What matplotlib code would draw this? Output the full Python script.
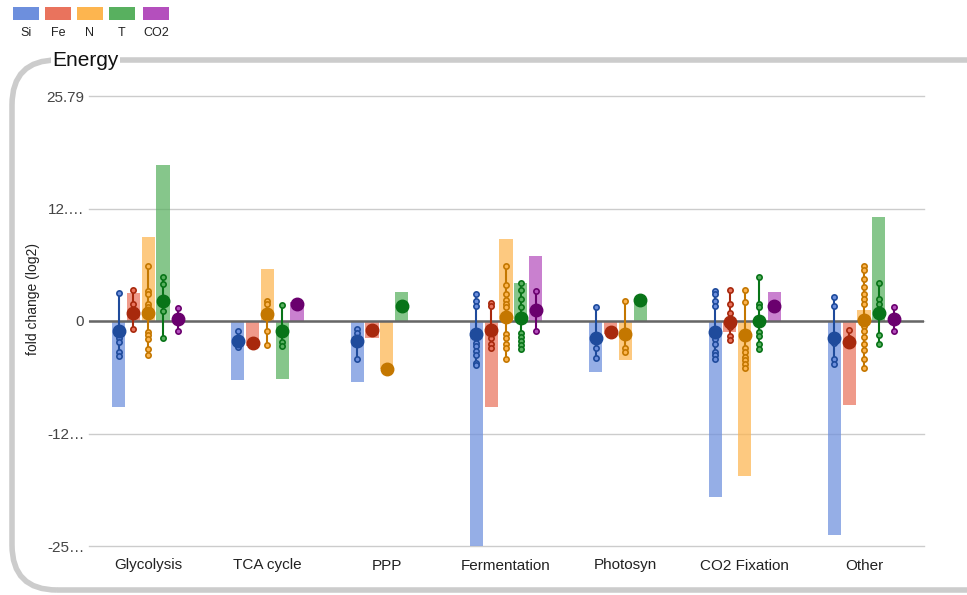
import matplotlib.pyplot as plt
from matplotlib.patches import FancyBboxPatch, Rectangle
from matplotlib.transforms import IdentityTransform

plt.rcParams['font.family'] = ['Liberation Sans', 'DejaVu Sans']

categories = ["Glycolysis", "TCA cycle", "PPP", "Fermentation", "Photosyn", "CO2 Fixation", "Other"]
series = ["Si", "Fe", "N", "T", "CO2"]

# bar heights per series (one per category)
bars_si = [-9.9, -6.8, -7.0, -25.79, -5.8, -20.2, -24.5]
bars_fe = [3.2, -2.9, -2.0, -9.9, -1.5, -1.3, -9.6]
bars_n = [9.6, 6.0, -5.5, 9.4, -4.5, -17.8, 1.3]
bars_t = [17.9, -6.6, 3.3, 4.3, 2.6, 0, 11.9]
bars_co2 = [0, 2.2, 0, 7.4, 0, 3.3, 0]

# big dot per series
center_si = [-1.2, -2.3, -2.3, -1.5, -1.9, -1.3, -1.9]
center_fe = [0.9, -2.5, -1.0, -1.0, -1.3, -0.15, -2.4]
center_n = [0.9, 0.8, -5.5, 0.5, -1.5, -1.6, 0.1]
center_t = [2.3, -1.2, 1.7, 0.4, 2.4, 0.03, 0.9]
center_co2 = [0.2, 1.9, None, 1.3, None, 1.7, 0.2]

# individual values per series (lists per category)
pts_si = [
    [3.2, -1.9, -2.4, -3.5, -4.0],
    [-1.2, -2.0, -3.0],
    [-0.95, -1.4, -4.4],
    [3.1, 2.3, 1.7, -2.5, -2.9, -3.4, -3.9, -4.8, -5.0],
    [1.6, -3.1, -4.2],
    [3.4, 3.1, 2.3, 1.7, -2.1, -2.6, -3.5, -3.9, -4.4],
    [2.7, 1.7, -2.5, -4.4, -4.9],
]
pts_fe = [
    [3.6, 1.9, -0.95],
    [],
    [],
    [2.1, 1.7, -2.0, -2.6, -3.1],
    [],
    [3.6, 2.0, 0.9, -0.7, -1.7, -2.2],
    [-1.0, -2.0, -2.8],
]
pts_n = [
    [6.3, 3.4, 3.1, 2.0, 1.6, -1.3, -1.6, -2.1, -3.2, -3.9],
    [2.3, 1.9, -1.2, -2.7],
    [],
    [6.3, 4.1, 3.1, 2.4, 2.0, 1.6, -1.5, -1.9, -2.6, -3.1, -4.4],
    [2.3, -3.1, -3.6],
    [3.5, 2.2, -3.1, -3.5, -4.1, -4.5, -4.9, -5.4],
    [6.3, 5.8, 4.8, 3.9, 3.1, 2.5, 2.0, -0.6, -1.2, -1.8, -2.6, -3.3, -4.4, -5.4],
]
pts_t = [
    [5.0, 4.2, 1.1, -1.9],
    [1.8, -2.4, -2.9],
    [],
    [4.3, 3.5, 2.5, 1.6, -1.4, -1.8, -2.3, -2.8, -3.2],
    [],
    [5.1, 1.9, 1.6, -1.3, -1.7, -2.6, -3.2],
    [4.3, 2.5, 2.0, -1.6, -2.6],
]
pts_co2 = [
    [1.5, -1.2],
    [],
    [],
    [3.4, -1.2],
    [],
    [],
    [1.6, -1.2],
]

bar_data = [bars_si, bars_fe, bars_n, bars_t, bars_co2]
center_data = [center_si, center_fe, center_n, center_t, center_co2]
pts_data = [pts_si, pts_fe, pts_n, pts_t, pts_co2]

bar_colors = ['#6d8fdd', '#e9735d', '#fdb54f', '#58b05f', '#b44fbd']
dot_colors = ['#1f4b9c', '#a8290d', '#c47700', '#087418', '#6a006e']

W, H = 967, 595
fig = plt.figure(figsize=(W / 100, H / 100), dpi=100)

# rounded frame (pixel coords)
frame = FancyBboxPatch((12, H - 590), 1040, 530,
                       boxstyle="round,pad=0,rounding_size=45",
                       transform=IdentityTransform(), fill=False,
                       edgecolor='#cccccc', linewidth=4)
fig.patches.append(frame)
fig.text(52 / W, 1 - 60 / H, "Energy", fontsize=15, va='center', ha='left',
         color='#111111', bbox=dict(facecolor='white', edgecolor='none', pad=1))

# legend squares
leg_x = [13, 45, 77, 109, 143]
for i, name in enumerate(series):
    fig.patches.append(Rectangle((leg_x[i], H - 20), 26, 13, transform=IdentityTransform(),
                                 facecolor=bar_colors[i], edgecolor='none'))
    fig.text((leg_x[i] + 13) / W, 1 - 33 / H, name, fontsize=9, ha='center', va='center',
             color='#222222')

ax = fig.add_axes([88.5 / W, 49 / H, (923.6 - 88.5) / W, 450 / H])
lim = 25.79
ax.set_ylim(-lim, lim)
ax.set_xlim(-0.5, len(categories) - 0.5)

offset = 0.124
width = 0.11
for s in range(len(series)):
    for c in range(len(categories)):
        x = c + (s - 2) * offset
        if bar_data[s][c] != 0:
            ax.bar(x, bar_data[s][c], width=width, color=bar_colors[s], alpha=0.72,
                   zorder=2, linewidth=0)

ax.axhline(0, color='#666666', linewidth=1.8, zorder=3)

for s in range(len(series)):
    for c in range(len(categories)):
        x = c + (s - 2) * offset
        vals = list(pts_data[s][c])
        cen = center_data[s][c]
        if cen is not None:
            vals_all = vals + [cen]
        else:
            vals_all = vals
        if len(vals_all) > 1:
            ax.plot([x, x], [min(vals_all), max(vals_all)], color=dot_colors[s],
                    linewidth=1.5, zorder=4)
        if vals:
            ax.plot([x] * len(vals), vals, 'o', markersize=3.8, markerfacecolor=bar_colors[s],
                    markeredgecolor=dot_colors[s], markeredgewidth=1.2, zorder=5)
        if cen is not None:
            ax.plot(x, cen, 'o', markersize=9, color=dot_colors[s], zorder=6)

ax.set_yticks([lim, lim / 2, 0, -lim / 2, -lim])
ax.set_yticklabels(["25.79", "12.…", "0", "-12…", "-25…"], fontsize=11, color='#444444')
ax.set_xticks(range(len(categories)))
ax.set_xticklabels(categories, fontsize=11, color='#222222')
ax.tick_params(axis='both', length=0)
ax.tick_params(axis='y', pad=3)
ax.tick_params(axis='x', pad=9)
ax.grid(axis='y', color='#cccccc', linewidth=1, zorder=0)
ax.set_axisbelow(True)
for line in ax.get_ygridlines():
    line.set_clip_on(False)
for sp in ax.spines.values():
    sp.set_visible(False)

fig.text(33 / W, 1 - 299 / H, "fold change (log2)", rotation=90, fontsize=10,
         ha='center', va='center', color='#222222')

fig.savefig("out.png", dpi=100)
